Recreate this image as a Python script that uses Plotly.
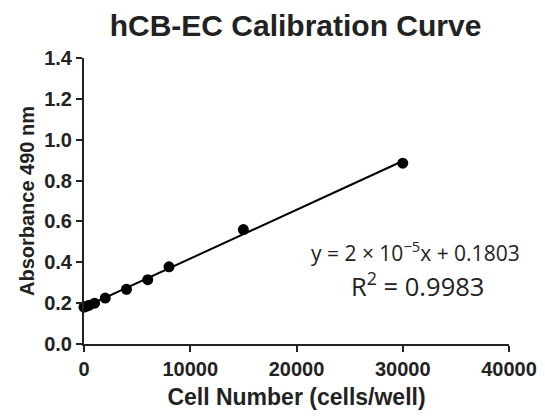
import numpy as np
import plotly.graph_objects as go

cells = [0, 250, 500, 1000, 2000, 4000, 6000, 8000, 15000, 30000]
absorbance = [0.18, 0.185, 0.19, 0.20, 0.225, 0.268, 0.315, 0.378, 0.56, 0.885]
x_ticks = [0, 10000, 20000, 30000, 40000]
y_ticks = [0.0, 0.2, 0.4, 0.6, 0.8, 1.0, 1.2, 1.4]

slope, intercept = np.polyfit(cells, absorbance, 1)
fit_x = [min(cells), max(cells)]
fit_y = [slope * v + intercept for v in fit_x]

W, H = 545, 418
OFF = 8  # page body offset
# plot area in reference-picture pixels
L0, R0, T0, B0 = 84, 509, 58, 344
pw, ph = R0 - L0, B0 - T0
l, t = L0 - OFF, T0 - OFF
r, b = W - (R0 - OFF), H - (B0 - OFF)

fig = go.Figure()
fig.add_trace(go.Scatter(x=fit_x, y=fit_y, mode="lines",
                         line=dict(color="black", width=2), showlegend=False,
                         cliponaxis=False))
fig.add_trace(go.Scatter(x=cells, y=absorbance, mode="markers",
                         marker=dict(color="black", size=11), showlegend=False,
                         cliponaxis=False))

font_axis = dict(family="Liberation Sans, Arial", color="#222")
fig.update_layout(
    width=W, height=H,
    margin=dict(l=l, r=r, t=t, b=b, autoexpand=False),
    plot_bgcolor="white", paper_bgcolor="white",
    title=dict(text="<b>hCB-EC Calibration Curve</b>", x=(295.5 - OFF) / W, xanchor="center",
               xref="container", y=1 - (25 - OFF) / H, yref="container", yanchor="middle",
               font=dict(family="Liberation Sans, Arial", size=30, color="#222"),
               automargin=False),
    xaxis=dict(range=[0, 40000], tickvals=x_ticks, ticktext=[f"<b>{v}</b>" for v in x_ticks],
               showline=True, linecolor="#222", linewidth=2, ticks="outside",
               ticklen=6, tickwidth=2, tickcolor="#222", showgrid=False, zeroline=False,
               automargin=False,
               tickfont=dict(size=20, **font_axis),
               title=dict(text="<b>Cell Number (cells/well)</b>", standoff=10,
                          font=dict(size=23, **font_axis))),
    yaxis=dict(range=[0, 1.4], tickvals=y_ticks, ticktext=[f"<b>{v:.1f}</b>" for v in y_ticks],
               showline=True, linecolor="#222", linewidth=2, ticks="outside",
               ticklen=6, tickwidth=2, tickcolor="#222", showgrid=False, zeroline=False,
               automargin=False,
               tickfont=dict(size=20, **font_axis),
               title=dict(text="<b>Absorbance 490 nm</b>", standoff=4,
                          font=dict(size=20, **font_axis))),
)
ann_px = [
    (415, 251, "y = 2 × 10<sup>−5</sup>x + 0.1803", 21),
    (417, 284, "R<sup>2</sup> = 0.9983", 25.5),
]
for px, py, txt, sz in ann_px:
    fig.add_annotation(x=(px - L0) / pw, y=1 - (py - T0) / ph, xref="paper", yref="paper",
                       xanchor="center", yanchor="middle",
                       showarrow=False, text=txt,
                       font=dict(family="Open Sans, Liberation Sans", size=sz, color="#222"))

fig.write_html("out.html")
